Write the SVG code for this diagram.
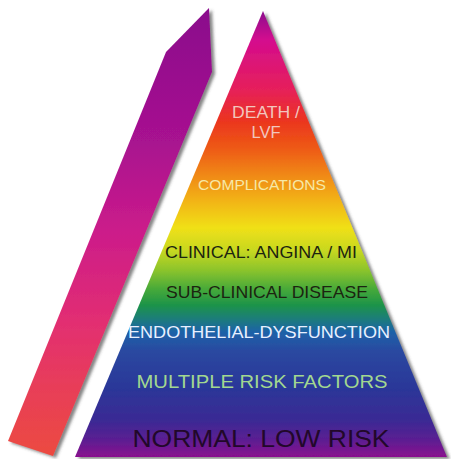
<svg xmlns="http://www.w3.org/2000/svg" width="451" height="459" viewBox="0 0 451 459">
  <defs>
    <!-- rainbow fill of the risk pyramid, top to base -->
    <linearGradient id="pyramidFill" gradientUnits="userSpaceOnUse" x1="0" y1="12" x2="0" y2="457">
      <stop offset="0" stop-color="#8E108E"/>
      <stop offset="0.063" stop-color="#D40C8E"/>
      <stop offset="0.175" stop-color="#E6205A"/>
      <stop offset="0.243" stop-color="#EB3420"/>
      <stop offset="0.31" stop-color="#EE5C14"/>
      <stop offset="0.366" stop-color="#F08814"/>
      <stop offset="0.422" stop-color="#F2B214"/>
      <stop offset="0.485" stop-color="#F0E018"/>
      <stop offset="0.535" stop-color="#C8D820"/>
      <stop offset="0.58" stop-color="#8CC42C"/>
      <stop offset="0.625" stop-color="#44A83A"/>
      <stop offset="0.658" stop-color="#1E9448"/>
      <stop offset="0.688" stop-color="#1A7E78"/>
      <stop offset="0.719" stop-color="#1E62A8"/>
      <stop offset="0.764" stop-color="#2A48A0"/>
      <stop offset="0.849" stop-color="#2C3698"/>
      <stop offset="0.917" stop-color="#3A2A94"/>
      <stop offset="0.962" stop-color="#5C1E92"/>
      <stop offset="1" stop-color="#8A108E"/>
    </linearGradient>
    <!-- side bar: purple at the top to red at the bottom -->
    <linearGradient id="barFill" gradientUnits="userSpaceOnUse" x1="0" y1="8" x2="0" y2="456">
      <stop offset="0" stop-color="#8A0A8C"/>
      <stop offset="0.3" stop-color="#A81290"/>
      <stop offset="0.5" stop-color="#CC1C8A"/>
      <stop offset="0.7" stop-color="#E22E72"/>
      <stop offset="0.85" stop-color="#E83E58"/>
      <stop offset="1" stop-color="#EC4A40"/>
    </linearGradient>
    <filter id="dropShadow" x="-10%" y="-10%" width="130%" height="130%">
      <feDropShadow dx="3" dy="2" stdDeviation="1.6" flood-color="#444" flood-opacity="0.65"/>
    </filter>
  </defs>
  <style>
    .lbl { font-family: "Liberation Sans", Arial, sans-serif; text-anchor: middle; }
    .light-pink { fill: #F2C6BE; }
    .cream { fill: #F6E8A6; }
    .dark { fill: #1C2410; }
    .pale-blue { fill: #E8F0FF; }
    .pale-green { fill: #A2D890; }
    .deep { fill: #22082A; }
  </style>

  <rect width="451" height="459" fill="#FFFFFF"/>

  <!-- slanted side bar -->
  <g id="side-bar">
    <path d="M209,8 L212,72 L53,456 L8,441 L166,52 Z" fill="url(#barFill)" filter="url(#dropShadow)"/>
  </g>

  <!-- risk pyramid -->
  <g id="pyramid">
    <path d="M263,11 L447,457 L75,457 Z" fill="url(#pyramidFill)" filter="url(#dropShadow)"/>
  </g>

  <!-- tier labels, top to base -->
  <g id="tier-death">
    <text class="lbl light-pink" x="266" y="118" font-size="16.5" textLength="68" lengthAdjust="spacingAndGlyphs">DEATH /</text>
    <text class="lbl light-pink" x="266" y="138" font-size="16.5">LVF</text>
  </g>
  <g id="tier-complications">
    <text class="lbl cream" x="262" y="190" font-size="15" textLength="128" lengthAdjust="spacingAndGlyphs">COMPLICATIONS</text>
  </g>
  <g id="tier-clinical">
    <text class="lbl dark" x="261" y="258" font-size="16.5" textLength="192" lengthAdjust="spacingAndGlyphs">CLINICAL: ANGINA / MI</text>
  </g>
  <g id="tier-subclinical">
    <text class="lbl dark" x="267" y="298" font-size="17" textLength="202" lengthAdjust="spacingAndGlyphs">SUB-CLINICAL DISEASE</text>
  </g>
  <g id="tier-endothelial">
    <text class="lbl pale-blue" x="259" y="338" font-size="17" textLength="262" lengthAdjust="spacingAndGlyphs">ENDOTHELIAL-DYSFUNCTION</text>
  </g>
  <g id="tier-risk-factors">
    <text class="lbl pale-green" x="262" y="388" font-size="18" textLength="251" lengthAdjust="spacingAndGlyphs">MULTIPLE RISK FACTORS</text>
  </g>
  <g id="tier-normal">
    <text class="lbl deep" x="261" y="447" font-size="24.5" textLength="257" lengthAdjust="spacingAndGlyphs">NORMAL: LOW RISK</text>
  </g>
</svg>
